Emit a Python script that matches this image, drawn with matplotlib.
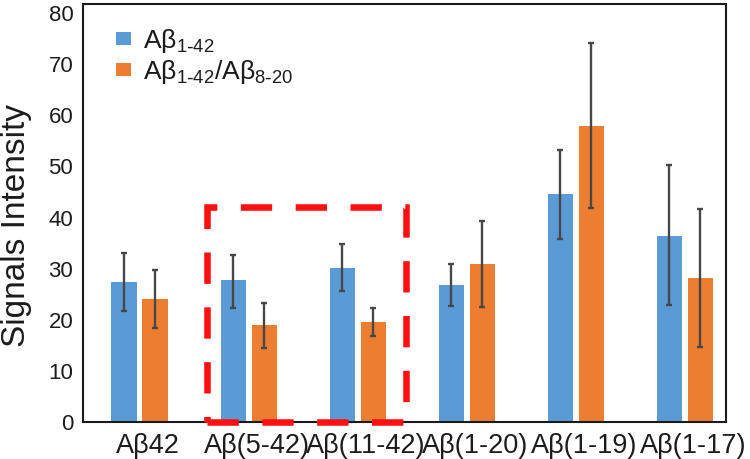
"""Signals intensity of Abeta fragments, grouped bars with error bars."""

import matplotlib.pyplot as plt
import matplotlib.transforms as mtransforms
import numpy as np
from matplotlib.patches import Rectangle

plt.rcParams["font.family"] = ["Liberation Sans", "DejaVu Sans"]
plt.rcParams["mathtext.default"] = "regular"

categories = ["Aβ42", "Aβ(5-42)", "Aβ(11-42)", "Aβ(1-20)", "Aβ(1-19)", "Aβ(1-17)"]
series_names = [r"Aβ$_{1\text{-}42}$", r"Aβ$_{1\text{-}42}$/Aβ$_{8\text{-}20}$"]

abeta42 = [27.3, 27.7, 30.2, 26.9, 44.6, 36.4]
abeta42_lo = [21.7, 22.4, 25.7, 22.7, 35.8, 22.8]
abeta42_hi = [33.0, 32.7, 34.8, 31.0, 53.3, 50.2]

mix = [24.1, 19.0, 19.6, 31.0, 57.9, 28.2]
mix_lo = [18.3, 14.5, 16.8, 22.6, 41.8, 14.7]
mix_hi = [29.8, 23.2, 22.3, 39.3, 74.1, 41.6]

yticks = [0, 10, 20, 30, 40, 50, 60, 70, 80]

# highlighted region (group index range, height)
box_x = (0.62, 2.44)
box_top = 42.0

BLUE = "#5B9BD5"
ORANGE = "#ED7D31"
ERR = "#474747"
TEXT = "#1c1c1c"


def main() -> None:
    fig = plt.figure(figsize=(7.5, 4.59), dpi=100)
    ax = fig.add_axes([83 / 750, 1 - 422 / 459, 643 / 750, 418 / 459])

    x = np.arange(len(categories))
    width = 0.23
    off = 0.142

    err_kw = dict(ecolor=ERR, elinewidth=1.7, capsize=2.5, capthick=1.7)
    for vals, lo, hi, pos, color, name in [
        (abeta42, abeta42_lo, abeta42_hi, x - off, BLUE, series_names[0]),
        (mix, mix_lo, mix_hi, x + off, ORANGE, series_names[1]),
    ]:
        vals = np.array(vals)
        yerr = [vals - np.array(lo), np.array(hi) - vals]
        ax.bar(pos, vals, width, color=color, yerr=yerr, error_kw=err_kw, label=name)

    ax.set_xlim(-0.518, 5.376)
    ax.set_ylim(0, 81.8)
    ax.set_yticks(yticks)
    ax.tick_params(axis="y", length=0, pad=7, labelsize=16, labelcolor=TEXT)
    ax.tick_params(axis="x", length=0, pad=8, labelsize=19.5, labelcolor=TEXT)
    ax.set_xticks(x)
    ax.set_xticklabels(categories)
    shift = mtransforms.ScaledTranslation(8 / 100, 0, fig.dpi_scale_trans)
    for lbl in ax.get_xticklabels():
        lbl.set_transform(lbl.get_transform() + shift)
    ax.set_ylabel("Signals Intensity", fontsize=24, labelpad=12, color=TEXT, y=0.47)

    for sp in ax.spines.values():
        sp.set_linewidth(1.5)
        sp.set_color("#1a1a1a")

    rect = Rectangle(
        (box_x[0], 0), box_x[1] - box_x[0], box_top,
        fill=False, edgecolor="#ff1010", linewidth=4.7,
        linestyle=(0, (4.8, 3.6)), clip_on=False, zorder=5,
    )
    ax.add_patch(rect)

    leg = ax.legend(
        loc="upper left", bbox_to_anchor=(0.035, 0.97), frameon=False,
        fontsize=19, handlelength=0.58, handleheight=0.35,
        handletextpad=0.45, labelspacing=0.1, borderaxespad=0,
    )
    for t in leg.get_texts():
        t.set_color(TEXT)

    fig.savefig("out.png", dpi=100)


if __name__ == "__main__":
    main()
